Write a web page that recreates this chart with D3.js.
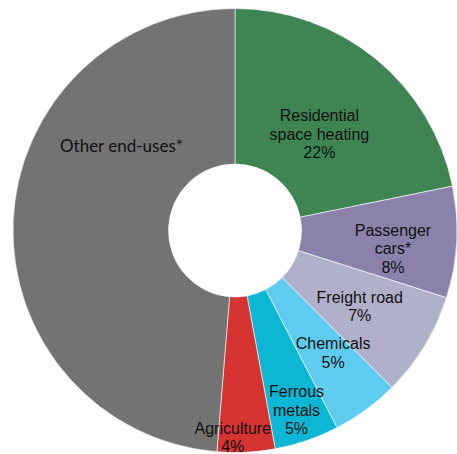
<!DOCTYPE html>
<html>
<head>
<meta charset="utf-8">
<script src="https://cdn.jsdelivr.net/npm/d3@7"></script>
<style>
  body { margin: 0; background: #fff; }
  svg { display: block; }
  .lbl { font-family: "Liberation Sans", Arial, sans-serif; font-size: 16px; fill: #111; }
  .lbl.other { font-family: Lato, "Open Sans", sans-serif; font-size: 17px; }
</style>
</head>
<body>
<svg id="chart" width="457" height="454"></svg>
<script>

// Slice data, clockwise from 12 o'clock
const categories = ["Residential space heating", "Passenger cars*", "Freight road", "Chemicals",
                    "Ferrous metals", "Agriculture", "Other end-uses*"];
const shares = [21.8, 8.1, 7.6, 4.9, 4.7, 4.2, 48.7];
const labelLines = [
    ["Residential", "space heating", "22%"],
    ["Passenger", "cars*", "8%"],
    ["Freight road", "7%"],
    ["Chemicals", "5%"],
    ["Ferrous", "metals", "5%"],
    ["Agriculture", "4%"],
    ["Other end-uses*"]
];
const colors = ["#3e8553", "#8a82ab", "#b1b0cb", "#5ecbef", "#0db7d3", "#d63333", "#737373"];

// Label placement: distance from centre and angle nudge (degrees)
const labelRadius = [128, 159, 146, 157, 190, 207, 141];
const labelNudge = [2, 3.5, 0, -2.5, 0, 3.5, 34];

const cx = 235, cy = 230.5,
      outerR = 222, innerR = 66.5;

const svg = d3.select("#chart");
const g = svg.append("g").attr("transform", `translate(${cx},${cy})`);

const pie = d3.pie().sort(null).value(d => d);
const arcs = pie(shares);

const arc = d3.arc().innerRadius(innerR).outerRadius(outerR);

g.selectAll("path.slice")
    .data(arcs)
    .enter()
    .append("path")
    .attr("class", "slice")
    .attr("d", arc)
    .attr("fill", (d, i) => colors[i])
    .attr("stroke", "#fff")
    .attr("stroke-width", 0.6);

// Labels
const lineH = 18.5;
g.selectAll("text.lbl")
    .data(arcs)
    .enter()
    .append("text")
    .attr("class", (d, i) => i === 6 ? "lbl other" : "lbl")
    .attr("text-anchor", "middle")
    .each(function (d, i) {
        const mid = (d.startAngle + d.endAngle) / 2 + labelNudge[i] * Math.PI / 180;
        const x = Math.sin(mid) * labelRadius[i],
              y = -Math.cos(mid) * labelRadius[i];
        const lines = labelLines[i];
        const y0 = y - (lines.length - 1) * lineH / 2 + 5.5;
        d3.select(this).selectAll("tspan")
            .data(lines)
            .enter()
            .append("tspan")
            .attr("x", x)
            .attr("y", (t, k) => y0 + k * lineH)
            .text(t => t);
    });
</script>
</body>
</html>
